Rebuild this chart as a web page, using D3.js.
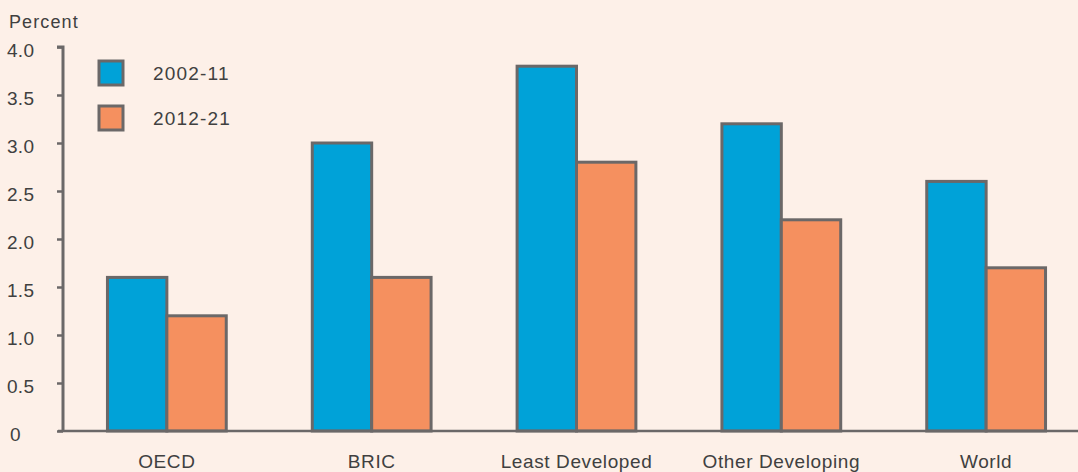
<!DOCTYPE html>
<html><head><meta charset="utf-8">
<script src="https://cdn.jsdelivr.net/npm/d3@7/dist/d3.min.js"></script>
<style>
html,body{margin:0;padding:0;background:#fdf0e8;}
svg{display:block;}
text{font-family:"Liberation Sans",Arial,sans-serif;fill:#404040;}
</style></head>
<body>
<svg id="chart" width="1078" height="472"></svg>
<script>
const categories = ["OECD", "BRIC", "Least Developed", "Other Developing", "World"];
const seriesNames = ["2002-11", "2012-21"];
const values2002_11 = [1.6, 3.0, 3.8, 3.2, 2.6];
const values2012_21 = [1.2, 1.6, 2.8, 2.2, 1.7];
const yTicks = [0, 0.5, 1.0, 1.5, 2.0, 2.5, 3.0, 3.5, 4.0];
const yTickLabels = ["0", "0.5", "1.0", "1.5", "2.0", "2.5", "3.0", "3.5", "4.0"];
const colors = ["#00a2d8", "#f5905f"];

const svg = d3.select("#chart");
const W = 1078, H = 472;
const x0 = 63, y0 = 431, yTop = 47;

const y = d3.scaleLinear().domain([0, 4]).range([y0, yTop]);
const x = d3.scaleBand().domain(categories).range([66.5, 1086.5]).paddingInner(0.42).paddingOuter(0.2);
const xs = d3.scaleBand().domain(seriesNames).range([0, x.bandwidth()]);

const seriesData = [values2002_11, values2012_21];
const stroke = "#6b6868";

// bars
seriesNames.forEach((s, si) => {
  svg.append("g").selectAll("rect").data(categories).join("rect")
    .attr("x", c => x(c) + xs(s))
    .attr("y", (c, i) => y(seriesData[si][i]))
    .attr("width", xs.bandwidth())
    .attr("height", (c, i) => y0 - y(seriesData[si][i]))
    .attr("fill", colors[si])
    .attr("stroke", stroke)
    .attr("stroke-width", 3);
});

// y axis
const yAxis = d3.axisLeft(y).tickValues(yTicks).tickSize(6).tickFormat("");
const gy = svg.append("g").attr("transform", `translate(${x0},0)`).call(yAxis);
gy.select(".domain").attr("stroke", stroke).attr("stroke-width", 3).attr("d", `M-6,${yTop}H0V${y0}`);
gy.selectAll(".tick line").attr("stroke", stroke).attr("stroke-width", 2.5);
svg.append("g").selectAll("text").data(yTicks).join("text")
  .attr("x", (d, i) => i === 0 ? 10 : 7)
  .attr("y", d => y(d) + 10)
  .attr("font-size", 19)
  .attr("letter-spacing", 0.3)
  .text((d, i) => yTickLabels[i]);

// x axis
const xAxis = d3.axisBottom(x).tickSize(0).tickPadding(23.5);
const gx = svg.append("g").attr("transform", `translate(0,${y0})`).call(xAxis);
gx.select(".domain").attr("stroke", stroke).attr("stroke-width", 2.5).attr("d", `M58,0H${W}`);
gx.selectAll(".tick text").attr("font-size", 19).attr("fill", "#404040")
  .attr("letter-spacing", 0.6)
  .attr("font-family", '"Liberation Sans",Arial,sans-serif');

// y title
svg.append("text").attr("x", 9).attr("y", 28).attr("font-size", 18).attr("letter-spacing", 1.1).text("Percent");

// legend
const leg = svg.append("g");
seriesNames.forEach((s, i) => {
  const ly = 61 + i * 45;
  leg.append("rect").attr("x", 99).attr("y", ly).attr("width", 24).attr("height", 24)
    .attr("fill", colors[i]).attr("stroke", stroke).attr("stroke-width", 3);
  leg.append("text").attr("x", 153).attr("y", ly + 19).attr("font-size", 19).attr("letter-spacing", 1.2).text(s);
});
</script>
</body></html>
